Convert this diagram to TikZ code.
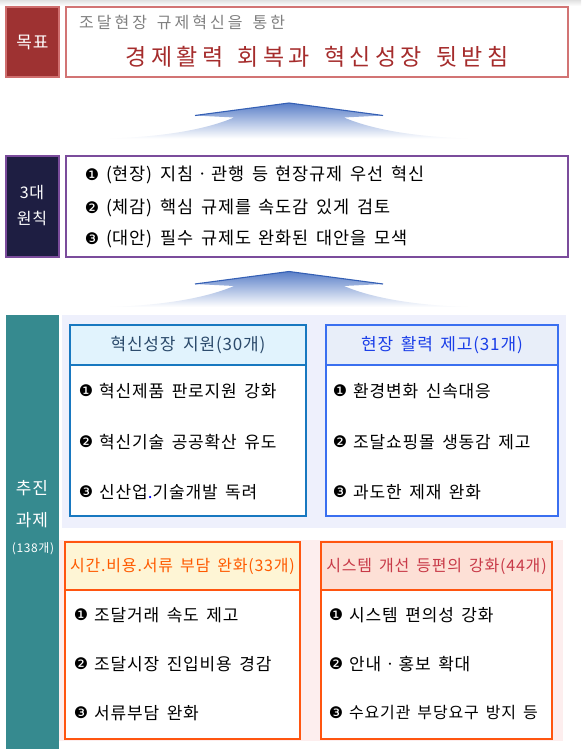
\documentclass[tikz,border=0pt]{standalone}
\usepackage{fontspec}
\setmainfont{Noto Sans CJK KR}
\newfontfamily\krw{Noto Sans CJK KR}[LetterSpace=19,WordSpace=1.5]
\newfontfamily\krs{Noto Sans CJK KR}[LetterSpace=5,WordSpace=1.6]
\newfontfamily\bul{DejaVu Sans}
\definecolor{goalfill}{HTML}{9E3232}
\definecolor{goalbd}{HTML}{CF6E6E}
\definecolor{mainbd}{HTML}{D27474}
\definecolor{titlered}{HTML}{A52C2C}
\definecolor{subgray}{HTML}{808080}
\definecolor{navybx}{HTML}{1E1E42}
\definecolor{purp}{HTML}{7B4C9C}
\definecolor{tealbx}{HTML}{368A8F}
\definecolor{lavbg}{HTML}{EEF0FC}
\definecolor{pinkbgc}{HTML}{FDEEEE}
\definecolor{bA}{HTML}{1878C0}
\definecolor{bAh}{HTML}{E1F3FD}
\definecolor{bAt}{HTML}{2B4A6B}
\definecolor{bB}{HTML}{3A6FF0}
\definecolor{bBh}{HTML}{E8EEF9}
\definecolor{bBt}{HTML}{1A3EE8}
\definecolor{orgbd}{HTML}{FF5510}
\definecolor{oAh}{HTML}{FEF5D5}
\definecolor{oAt}{HTML}{FF5A00}
\definecolor{oBh}{HTML}{FDE0D6}
\definecolor{oBt}{HTML}{C83A48}
\definecolor{arrblue}{HTML}{5A7FC8}
\definecolor{arrline}{HTML}{3560B5}
\newcommand\myitem[6]{%
  \node[bulnode] (#1b) at (#2,#4) {#5};
  \node[itemtxt] (#1) at (#3,#4) {#6};}
\begin{document}
\begin{tikzpicture}[x=1pt,y=-1pt,
  box/.style={rectangle, anchor=north west, inner sep=0pt, outer sep=0pt},
  lbl/.style={inner sep=0pt, outer sep=0pt},
  wlbl/.style={inner sep=0pt, outer sep=0pt, text=white, font=\krs\fontsize{16}{16}\selectfont},
  bulnode/.style={inner sep=0pt, font=\bul\fontsize{16}{16}\selectfont},
  itemtxt/.style={anchor=west, inner sep=0pt, font=\krs\fontsize{17}{18}\selectfont},
  prtxt/.style={itemtxt, font=\krs\fontsize{17.5}{18}\selectfont},
  headtxt/.style={inner sep=0pt, font=\krs\fontsize{17}{17}\selectfont},
  arrowshade/.style={top color=arrblue, bottom color=white, draw=none},
  arrstroke/.style={draw=arrline, line width=1.1, line join=round},
  cardbd/.style={line width=2.4}]
\useasboundingbox (0,0) rectangle (581,749);
\fill[white] (0,0) rectangle (581,749);
\fill[top color=black!12, bottom color=white] (0,0) rectangle (581,6);
% ---- goal
\node[box, fill=goalfill, draw=goalbd, line width=2.4, minimum width=53, minimum height=70] (goal) at (6,7) {};
\node[wlbl, font=\krs\fontsize{17}{17}\selectfont] (goalt) at (goal.center) {목표};
\node[box, fill=white, draw=mainbd, line width=2.6, minimum width=502, minimum height=70] (goalbox) at (66,7) {};
\node[lbl, anchor=west, text=subgray, font=\krw\fontsize{16}{16}\selectfont] (sub) at (79,22) {조달현장 규제혁신을 통한};
\node[lbl, text=titlered, font=\krw\fontsize{23}{23}\selectfont] (title) at (317,57) {경제활력 회복과 혁신성장 뒷받침};
% ---- arrows
\foreach \dy in {0,168.5}{
\begin{scope}[shift={(0,\dy)}]
\path[arrowshade] (289,103) -- (195,115.5) -- (234,117.5) .. controls (205,130) and (160,137) .. (110,138.5) -- (468,138.5) .. controls (418,137) and (373,130) .. (344,117.5) -- (383,115.5) -- cycle;
\draw[arrstroke] (195,115.5) -- (289,103) -- (383,115.5);
\end{scope}}
% ---- principles
\node[box, fill=navybx, draw=purp, line width=2.4, minimum width=53, minimum height=101] (prin) at (6,156) {};
\node[wlbl] (prin1) at (32,193) {3대};
\node[wlbl] (prin2) at (32,218) {원칙};
\node[box, fill=white, draw=purp, line width=2.6, minimum width=502, minimum height=101] (prinbox) at (66,156) {};
\node[bulnode] (pab) at (92,175) {❶};
\node[prtxt] (pa) at (106,175) {(현장) 지침ㆍ관행 등 현장규제 우선 혁신};
\node[bulnode] (pbb) at (92,208) {❷};
\node[prtxt] (pb) at (106,208) {(체감) 핵심 규제를 속도감 있게 검토};
\node[bulnode] (pcb) at (92,239) {❸};
\node[prtxt] (pc) at (106,239) {(대안) 필수 규제도 완화된 대안을 모색};
% ---- tasks
\node[box, fill=tealbx, minimum width=53, minimum height=434] (teal) at (6,315) {};
\node[wlbl, font=\krs\fontsize{17}{17}\selectfont] (teal1) at (32,488) {추진};
\node[wlbl, font=\krs\fontsize{17}{17}\selectfont] (teal2) at (32,520) {과제};
\node[wlbl, font=\krs\fontsize{12}{12}\selectfont] (teal3) at (33,549) {(138개)};
\node[box, fill=lavbg, minimum width=504, minimum height=213] (lav) at (62,315) {};
\node[box, fill=pinkbgc, minimum width=504, minimum height=201] (pink) at (59,540) {};
% card 1
\node[box, fill=white, minimum width=236, minimum height=191] (c1) at (70,325) {};
\node[box, fill=bAh, minimum width=236, minimum height=40] (c1h) at (70,325) {};
\draw[cardbd, bA] (c1h.south west) -- (c1h.south east);
\draw[cardbd, bA] (c1.north west) rectangle (c1.south east);
\node[headtxt, text=bAt] (c1t) at (c1h.center) {혁신성장 지원(30개)};
\myitem{ca}{86}{99}{391}{❶}{혁신제품 판로지원 강화}
\myitem{cb}{86}{99}{442}{❷}{혁신기술 공공확산 유도}
\myitem{cc}{86}{99}{492}{❸}{신산업{\color{blue}.}기술개발 독려}
% card 2
\node[box, fill=white, minimum width=232, minimum height=191] (c2) at (326,325) {};
\node[box, fill=bBh, minimum width=232, minimum height=40] (c2h) at (326,325) {};
\draw[cardbd, bB] (c2h.south west) -- (c2h.south east);
\draw[cardbd, bB] (c2.north west) rectangle (c2.south east);
\node[headtxt, text=bBt] (c2t) at (c2h.center) {현장 활력 제고(31개)};
\myitem{da}{340}{353}{391}{❶}{환경변화 신속대응}
\myitem{db}{340}{353}{442}{❷}{조달쇼핑몰 생동감 제고}
\myitem{dc}{340}{353}{492}{❸}{과도한 제재 완화}
% card 3
\node[box, fill=white, minimum width=235, minimum height=197] (c3) at (65,542) {};
\node[box, fill=oAh, minimum width=235, minimum height=48] (c3h) at (65,542) {};
\draw[cardbd, orgbd] (c3h.south west) -- (c3h.south east);
\draw[cardbd, orgbd] (c3.north west) rectangle (c3.south east);
\node[headtxt, text=oAt, font=\krs\fontsize{16}{16}\selectfont] (c3t) at (c3h.center) {시간.비용.서류 부담 완화(33개)};
\myitem{ea}{81}{94}{615}{❶}{조달거래 속도 제고}
\myitem{eb}{81}{94}{664}{❷}{조달시장 진입비용 경감}
\myitem{ec}{81}{94}{713}{❸}{서류부담 완화}
% card 4
\node[box, fill=white, minimum width=231, minimum height=197] (c4) at (321,542) {};
\node[box, fill=oBh, minimum width=231, minimum height=48] (c4h) at (321,542) {};
\draw[cardbd, orgbd] (c4h.south west) -- (c4h.south east);
\draw[cardbd, orgbd] (c4.north west) rectangle (c4.south east);
\node[headtxt, text=oBt, font=\krs\fontsize{16}{16}\selectfont] (c4t) at (c4h.center) {시스템 개선 등편의 강화(44개)};
\myitem{fa}{336}{349}{615}{❶}{시스템 편의성 강화}
\myitem{fb}{336}{349}{664}{❷}{안내ㆍ홍보 확대}
\node[bulnode] (fcb) at (336,713) {❸};
\node[itemtxt, font=\krs\fontsize{16}{18}\selectfont] (fc) at (349,713) {수요기관 부당요구 방지 등};
\end{tikzpicture}
\end{document}
